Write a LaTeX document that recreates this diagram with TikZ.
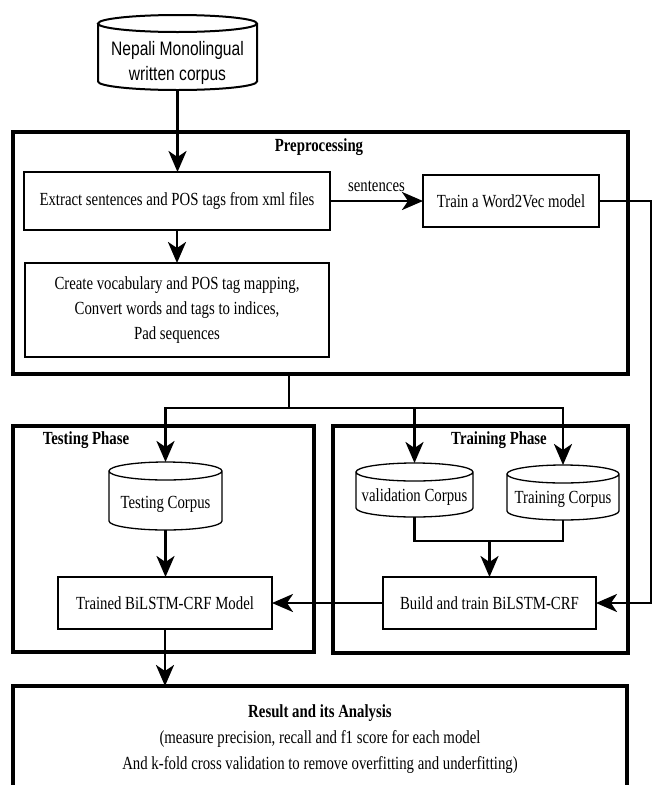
\documentclass[tikz,border=0pt]{standalone}
\usepackage{fontspec}
\setmainfont{Liberation Serif}[FakeStretch=0.80]
\newfontfamily\cansans{Liberation Sans}[FakeStretch=0.80]
\usetikzlibrary{arrows.meta,calc}

% Outline of a database can fitted to the rectangle of node #2,
% with end ellipses of half-height #3.
\newcommand\canpath[3][]{%
  \path[#1] let \p1=(#2.north west), \p2=(#2.south east) in
    (\x1,\y1-#3) -- (\x1,\y2+#3)
    arc[start angle=180, end angle=360, x radius={(\x2-\x1)/2}, y radius=#3]
    -- (\x2,\y1-#3)
    arc[start angle=0, end angle=360, x radius={(\x2-\x1)/2}, y radius=#3];
}

\begin{document}
\begin{tikzpicture}[x=1pt,y=-1pt,
  every node/.style={inner sep=0pt, outer sep=0pt},
  txt/.style={font=\fontsize{18.5}{25}\selectfont, align=center},
  ttl/.style={font=\fontsize{18.5}{25}\selectfont\bfseries},
  procbox/.style={txt, draw, line width=1.7pt, fill=white},
  phasebox/.style={draw, line width=3.2pt},
  canline/.style={draw, fill=white, line width=1.3pt},
  wire/.style={line width=2.8pt, line join=miter},
  arr/.style={wire, -{Stealth[length=21pt, width=18pt, inset=6pt]}}
]
\useasboundingbox (0,0) rectangle (655,785);
\clip (0,0) rectangle (655,785);

% ---- phase frames ----
\node[phasebox, minimum width=615pt, minimum height=242pt] (pp) at (320.5,253) {};
\node[ttl] (pp-t) at (319,147) {Preprocessing};
\node[phasebox, minimum width=301pt, minimum height=226pt] (ts) at (163.5,539) {};
\node[ttl] (ts-t) at (86,440) {Testing Phase};
\node[phasebox, minimum width=295pt, minimum height=227pt] (tr) at (480.5,539.5) {};
\node[ttl] (tr-t) at (499,440) {Training Phase};
\node[phasebox, minimum width=614pt, minimum height=106pt, align=center,
      font=\fontsize{18.5}{26}\selectfont] (res) at (320,739)
  {\textbf{Result and its Analysis}\\
   (measure precision, recall and f1 score for each model\\
   And k-fold cross validation to remove overfitting and underfitting)};

% ---- source corpus ----
\node[minimum width=159pt, minimum height=75pt] (src) at (177.5,52.5) {};
\canpath[canline, line width=2pt]{src}{8.5pt}
\node[font=\cansans\fontsize{19.5}{25}\selectfont, align=center] (src-t)
  at ([yshift=-10pt]src.center) {Nepali Monolingual\\written corpus};

% ---- preprocessing steps ----
\node[procbox, minimum width=306pt, minimum height=58pt] (ex) at (177,201)
  {Extract sentences and POS tags from xml files};
\node[procbox, minimum width=304pt, minimum height=94pt] (cr) at (177,310)
  {Create vocabulary and POS tag mapping,\\Convert words and tags to indices,\\Pad sequences};
\node[procbox, minimum width=176pt, minimum height=52pt] (w2v) at (511,201)
  {Train a Word2Vec model};

% ---- corpora ----
\node[minimum width=113pt, minimum height=68pt] (tcan) at (165.5,496) {};
\canpath[canline]{tcan}{9pt}
\node[txt] (tcan-t) at ([yshift=-8pt]tcan.center) {Testing Corpus};

\node[minimum width=117pt, minimum height=54pt] (vcan) at (414.5,490) {};
\canpath[canline]{vcan}{9pt}
\node[txt] (vcan-t) at ([yshift=-7pt]vcan.center) {validation Corpus};

\node[minimum width=112pt, minimum height=55pt] (trcan) at (563,492.5) {};
\canpath[canline]{trcan}{9pt}
\node[txt] (trcan-t) at ([yshift=-7pt]trcan.center) {Training Corpus};

% ---- models ----
\node[procbox, minimum width=214pt, minimum height=52pt] (trained) at (165,603)
  {Trained BiLSTM-CRF Model};
\node[procbox, minimum width=213pt, minimum height=52pt] (build) at (489.5,603)
  {Build and train BiLSTM-CRF};

% ---- connectors ----
\coordinate (split) at (289,408);
\coordinate (merge) at (489.5,541);
\coordinate (rside) at (651,0);

\draw[arr] (src.south) -- (src.south |- ex.north);
\draw[arr] (ex.south) -- (ex.south |- cr.north);
\draw[arr] (ex.east) -- node[txt, above=9pt] (sent) {sentences} (w2v.west);
\draw[arr] (w2v.east) -- (w2v.east -| rside) |- (build.east);

\draw[wire] (pp.south -| split) -- (split);
\draw[arr] (split) -| (tcan.north);
\draw[arr] (split) -| (vcan.north);
\draw[arr] (split) -| (trcan.north);

\draw[arr] (tcan.south) -- (tcan.south |- trained.north);
\draw[wire] (vcan.south) |- (merge) -| (trcan.south);
\draw[arr] (merge) -- (build.north);
\draw[arr] (build.west) -- (trained.east);
\draw[arr] (trained.south) -- (trained.south |- res.north);
\end{tikzpicture}
\end{document}
